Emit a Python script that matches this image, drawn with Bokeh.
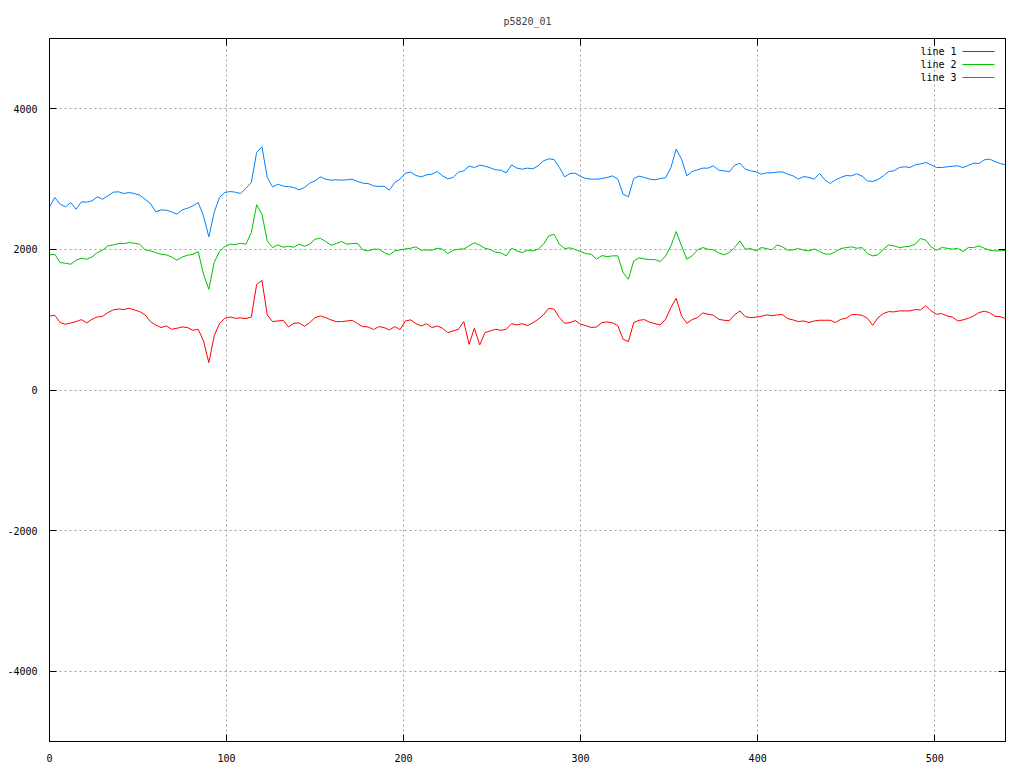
from bokeh.plotting import figure
from bokeh.models import (Range1d, SingleIntervalTicker, LinearAxis, Label,
                          BoxAnnotation, NumeralTickFormatter, CustomJSTickFormatter)
from bokeh.embed import file_html
from bokeh.resources import INLINE

title = "p5820_01"
names = ["line 1", "line 2", "line 3"]
colors = ["#ff0000", "#00c000", "#0080ff"]

# sample positions (every 3rd sample)
xs = list(range(0, 541, 3))

line1 = [1053, 1063, 959, 935, 954, 973, 1001, 954, 1006, 1039, 1049, 1101, 1139, 1153, 1144, 1163,
         1139, 1115, 1068, 973, 925, 888, 911, 864, 878, 897, 888, 849, 864, 698, 389,
         769, 944, 1020, 1039, 1020, 1025, 1016, 1039, 1500, 1560, 1068, 973, 982, 992, 897,
         949, 954, 906, 959, 1030, 1053, 1030, 997, 973, 973, 982, 992, 944, 902, 897,
         859, 902, 888, 854, 902, 859, 982, 997, 944, 911, 944, 888, 911, 878, 816,
         840, 864, 973, 650, 878, 641, 816, 840, 864, 849, 864, 944, 925, 944, 916,
         954, 1006, 1068, 1163, 1149, 1030, 949, 959, 987, 935, 916, 888, 897, 959, 968,
         954, 916, 721, 688, 959, 992, 1001, 964, 944, 925, 1006, 1172, 1305, 1053, 949,
         1001, 1030, 1096, 1078, 1063, 1006, 992, 987, 1068, 1125, 1044, 1030, 1035, 1049, 1068,
         1058, 1068, 1073, 1016, 997, 973, 982, 959, 982, 992, 992, 992, 959, 1006, 1020,
         1073, 1073, 1063, 1020, 921, 1030, 1087, 1115, 1111, 1125, 1125, 1125, 1144, 1139, 1201,
         1125, 1078, 1087, 1053, 1039, 982, 997, 1020, 1053, 1101, 1120, 1101, 1049, 1044, 1016]

line2 = [1922, 1931, 1813, 1803, 1789, 1846, 1874, 1860, 1893, 1955, 1988, 2050, 2064, 2083, 2083, 2097,
         2088, 2074, 1993, 1979, 1955, 1931, 1922, 1893, 1846, 1893, 1917, 1931, 1969, 1647, 1433,
         1813, 1969, 2040, 2074, 2069, 2088, 2074, 2240, 2634, 2501, 2121, 2026, 2064, 2031, 2045,
         2031, 2074, 2045, 2074, 2145, 2159, 2112, 2059, 2083, 2112, 2074, 2083, 2083, 1993, 1979,
         2003, 2003, 1955, 1922, 1979, 1993, 2007, 2017, 2036, 1988, 1993, 1988, 2017, 2003, 1941,
         1988, 2003, 2007, 2050, 2093, 2059, 2017, 1998, 1960, 1950, 1908, 2017, 1979, 1955, 1988,
         1979, 2003, 2074, 2192, 2216, 2074, 2012, 2022, 1998, 1969, 1941, 1931, 1860, 1912, 1898,
         1908, 1908, 1670, 1575, 1836, 1879, 1865, 1855, 1855, 1827, 1908, 2050, 2254, 2050, 1860,
         1908, 1993, 2026, 2003, 1993, 1950, 1922, 1955, 2026, 2121, 2003, 2012, 1979, 2026, 2012,
         1993, 2064, 2036, 1988, 1993, 2012, 1988, 1979, 2007, 1969, 1936, 1931, 1969, 2012, 2026,
         2036, 2017, 2026, 1941, 1908, 1922, 2003, 2064, 2050, 2026, 2036, 2045, 2074, 2154, 2131,
         2036, 1988, 2026, 2017, 2003, 2017, 1969, 2026, 2026, 2050, 2017, 1988, 1979, 1979, 1988]

line3 = [2605, 2738, 2643, 2605, 2667, 2572, 2676, 2672, 2691, 2747, 2714, 2762, 2814, 2819, 2795, 2809,
         2795, 2771, 2714, 2653, 2534, 2562, 2558, 2534, 2501, 2562, 2586, 2620, 2667, 2477, 2178,
         2524, 2738, 2809, 2823, 2814, 2795, 2871, 2952, 3379, 3459, 3023, 2890, 2928, 2899, 2895,
         2880, 2847, 2880, 2942, 2975, 3032, 2999, 2985, 2990, 2985, 2990, 2999, 2966, 2942, 2937,
         2904, 2895, 2899, 2842, 2952, 2999, 3084, 3099, 3051, 3032, 3061, 3070, 3108, 3046, 3004,
         3023, 3099, 3118, 3184, 3165, 3198, 3184, 3160, 3132, 3127, 3089, 3203, 3156, 3141, 3156,
         3146, 3189, 3260, 3288, 3279, 3165, 3032, 3080, 3084, 3037, 3008, 2999, 2999, 3008, 3023,
         3046, 2999, 2785, 2748, 3008, 3042, 3023, 2999, 2990, 3008, 3018, 3165, 3426, 3284, 3046,
         3108, 3132, 3156, 3156, 3189, 3127, 3118, 3103, 3198, 3227, 3141, 3118, 3103, 3070, 3089,
         3089, 3099, 3103, 3070, 3046, 2999, 3037, 3023, 3000, 3080, 2990, 2937, 2990, 3023, 3051,
         3046, 3075, 3042, 2975, 2966, 2994, 3046, 3108, 3118, 3165, 3175, 3165, 3203, 3217, 3236,
         3203, 3165, 3165, 3175, 3184, 3189, 3165, 3194, 3227, 3222, 3274, 3284, 3250, 3222, 3203]

FONT = "DejaVu Sans Mono"
FW, FH = 956, 703
TICK = 7

p = figure(frame_width=FW, frame_height=FH, output_backend="svg", toolbar_location=None,
           x_range=Range1d(0, 540), y_range=Range1d(-5000, 5000),
           min_border_left=49, min_border_right=19, min_border_top=38, min_border_bottom=27,
           background_fill_color="white", border_fill_color="white")

p.title.text = title
p.title.align = "center"
p.title.text_font = FONT
p.title.text_font_size = "10px"
p.title.text_font_style = "normal"
p.title.standoff = 15

p.outline_line_color = "black"
p.outline_line_width = 1
p.outline_line_alpha = 1

xt = SingleIntervalTicker(interval=100)
yt = SingleIntervalTicker(interval=2000)

for ax in (p.xaxis[0], p.yaxis[0]):
    ax.major_tick_in = TICK
    ax.major_tick_out = 0
    ax.minor_tick_line_color = None
    ax.axis_line_color = "black"
    ax.major_tick_line_color = "black"
    ax.major_label_text_font = FONT
    ax.major_label_text_font_size = "10px"
    ax.major_label_text_color = "black"
    ax.formatter = NumeralTickFormatter(format="0")
p.xaxis[0].ticker = xt
p.yaxis[0].ticker = yt
p.xaxis[0].major_label_standoff = 8
p.yaxis[0].major_label_standoff = 8

blank = CustomJSTickFormatter(code="return ''")
ra = LinearAxis(ticker=SingleIntervalTicker(interval=2000), formatter=blank,
                major_label_standoff=0, major_tick_in=TICK, major_tick_out=0,
                minor_tick_line_color=None, axis_line_color="black")
ta = LinearAxis(ticker=SingleIntervalTicker(interval=100), formatter=blank,
                major_label_standoff=0, major_tick_in=TICK, major_tick_out=0,
                minor_tick_line_color=None, axis_line_color="black")
p.add_layout(ra, "right")
p.add_layout(ta, "above")

p.xgrid.ticker = xt
p.ygrid.ticker = yt
for g in (p.xgrid[0], p.ygrid[0]):
    g.grid_line_color = "#a0a0a0"
    g.grid_line_dash = "2 3"
    g.grid_line_width = 1

for ys, c in zip([line1, line2, line3], colors):
    p.line(xs, ys, line_color=c, line_width=1)

# gnuplot-style key (text, then sample line), top right inside frame
for i, (n, c) in enumerate(zip(names, colors)):
    yy = FH - 13 - 13 * i
    p.add_layout(Label(x=FW - 49, y=yy, x_units="screen", y_units="screen", text=n,
                       text_align="right", text_baseline="middle", text_font=FONT,
                       text_font_size="10px", text_color="black"))
    p.add_layout(BoxAnnotation(left=FW - 43, right=FW - 11, bottom=yy - 0.5, top=yy + 0.5,
                               left_units="screen", right_units="screen",
                               bottom_units="screen", top_units="screen",
                               fill_color=c, fill_alpha=1, line_color=None))

open("out.html", "w").write(file_html(p, INLINE))
